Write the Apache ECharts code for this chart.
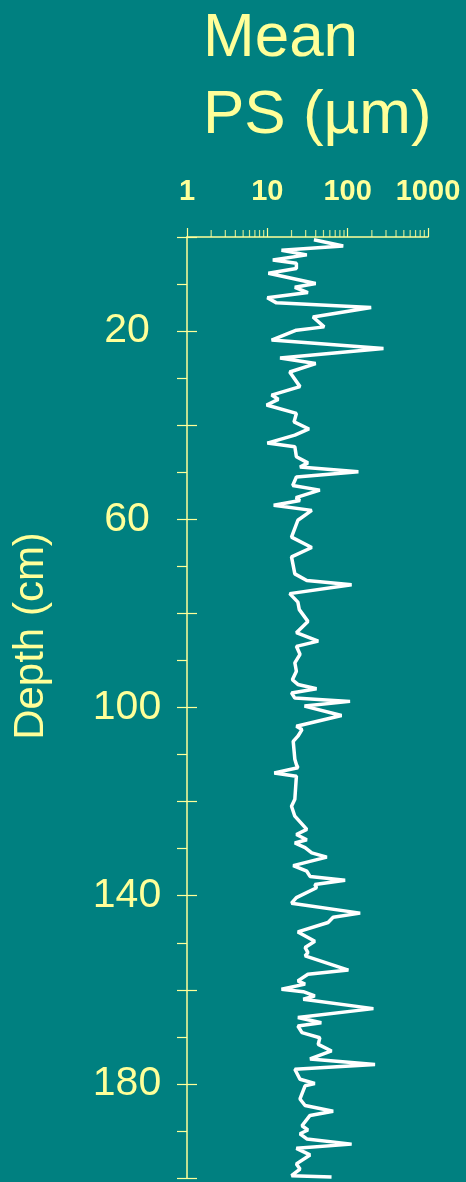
<!DOCTYPE html>
<html><head><meta charset="utf-8">
<script src="https://cdn.jsdelivr.net/npm/echarts@6/dist/echarts.min.js"></script>
<style>html,body{margin:0;padding:0;background:#008080;}#c{width:466px;height:1182px;}</style>
</head><body><div id="c"></div>
<script>
// Depth (cm) of each digitised vertex
const depth = [
  0.6, 1.9, 2.8, 3.8, 4.9, 5.6, 6.7, 7.7, 9.9, 10.7, 11.8, 12.9, 14.0, 15.0, 17.0, 19.1, 19.8,
  21.9, 23.7, 25.7, 26.9, 28.7, 31.8, 33.6, 34.5, 35.7, 37.5, 39.3, 40.8, 42.1, 43.8, 44.6,
  46.7, 48.0, 48.9, 49.9, 51.0, 52.8, 53.8, 55.4, 56.0, 57.0, 58.1, 60.2, 63.8, 66.0, 68.0,
  71.6, 73.0, 73.9, 75.8, 77.6, 79.2, 81.7, 84.1, 85.9, 87.0, 88.7, 90.5, 92.3, 94.1, 95.1,
  96.0, 96.9, 98.0, 98.7, 99.7, 101.7, 104.0, 104.7, 106.1, 107.2, 111.0, 112.1, 112.8, 113.9,
  114.6, 119.5, 121.0, 123.1, 125.9, 127.0, 128.1, 128.8, 129.8, 130.9, 131.8, 133.6, 134.8,
  135.9, 136.7, 137.6, 138.3, 140.4, 141.6, 143.7, 144.6, 145.7, 147.7, 149.7, 151.0, 152.1,
  152.8, 155.8, 156.7, 158.1, 158.8, 159.9, 160.4, 161.3, 162.0, 164.0, 165.9, 167.0, 167.7,
  169.1, 170.2, 171.6, 173.0, 174.7, 175.9, 176.9, 179.0, 179.9, 180.4, 183.2, 184.6, 185.8,
  186.7, 188.9, 189.8, 190.6, 191.7, 192.8, 193.7, 195.1, 197.0, 198.1, 199.5, 199.8
];
// Mean particle size (µm) at each depth
const meanPS = [
  38, 88, 15, 31, 11.7, 23, 23, 10.3, 40, 22, 32, 10, 13, 196, 37, 51, 23,
  11.3, 279, 14.4, 40, 19, 25.5, 11.3, 13.7, 9.8, 23, 21.5, 33, 22, 10, 22,
  23, 32, 25.5, 136, 23, 20.7, 45, 22.7, 25.5, 12, 35.7, 24, 20, 35.7, 20,
  22, 31, 112, 19, 24, 25, 32, 23, 43, 23, 25.5, 22, 23, 20.5, 24,
  41, 20, 22, 107, 29, 84, 23, 27, 24, 21, 22, 23, 24, 12.2,
  23, 22, 20, 22, 31, 23, 31, 22, 29.5, 35.7, 55, 21, 31,
  34, 93, 39, 41, 23, 20, 143, 66, 57, 24, 39, 29.5, 32,
  29.5, 102, 32, 24, 29.5, 15, 28, 39, 28, 209, 24, 47, 24,
  27, 45, 43, 63, 34, 219, 22, 25.5, 39, 29.5, 25.5, 29.5, 66,
  34, 27, 32, 25.5, 31, 112, 23, 34, 23, 25.5, 20, 63
];
const xTickLabels = ['1', '10', '100', '1000'];
const yTickLabels = [20, 60, 100, 140, 180];
const minorTicks = [2,3,4,5,6,7,8,9,20,30,40,50,60,70,80,90,200,300,400,500,600,700,800,900];

const YEL = '#FFFF99';
const FONT = '"Liberation Sans", Arial, sans-serif';

const chart = echarts.init(document.getElementById('c'), null, {renderer: 'canvas'});
chart.setOption({
  backgroundColor: '#008080',
  animation: false,
  title: {
    text: 'Mean\nPS (µm)',
    left: 203, top: 0, padding: 0,
    textStyle: {fontSize: 62, fontWeight: 'normal', color: YEL, lineHeight: 77, fontFamily: FONT}
  },
  graphic: [{
    type: 'text', x: 31, y: 636, rotation: Math.PI / 2,
    style: {text: 'Depth (cm)', fill: YEL, font: '42px ' + FONT, align: 'center', verticalAlign: 'middle'}
  }],
  grid: {left: 187, right: 38, top: 237, bottom: 4, containLabel: false},
  xAxis: {
    type: 'log', logBase: 10, min: 1, max: 1000, position: 'top',
    axisLine: {show: true, lineStyle: {color: YEL, width: 1.5}},
    axisTick: {show: true, inside: false, length: 9, lineStyle: {color: YEL, width: 1.2}},
    splitLine: {show: false},
    axisLabel: {
      margin: 31, color: YEL, fontSize: 29, fontWeight: 'bold', fontFamily: FONT,
      formatter: v => xTickLabels[Math.round(Math.log10(v))]
    }
  },
  yAxis: [{
    type: 'value', inverse: true, min: 0, max: 200, interval: 10,
    axisLine: {show: true, lineStyle: {color: YEL, width: 1.5}},
    axisTick: {show: true, inside: false, length: 10, lineStyle: {color: YEL, width: 1.2}},
    splitLine: {show: false},
    axisLabel: {
      interval: 0, margin: 60, align: 'center', color: YEL, fontSize: 41, fontFamily: FONT,
      formatter: v => (yTickLabels.indexOf(v) >= 0 ? String(v) : '')
    }
  }, {
    type: 'value', inverse: true, min: 0, max: 200, interval: 20, position: 'left',
    axisLine: {show: false},
    axisTick: {show: true, inside: true, length: 10, lineStyle: {color: YEL, width: 1.2}},
    splitLine: {show: false},
    axisLabel: {show: false}
  }],
  series: [{
    type: 'line', yAxisIndex: 0,
    data: depth.map((d, i) => [meanPS[i], d]),
    showSymbol: false, smooth: false, clip: true,
    lineStyle: {color: '#FFFFFF', width: 3.5},
    z: 3
  }, {
    type: 'scatter', yAxisIndex: 0, silent: true, clip: false,
    data: minorTicks.map(v => [v, 0]),
    symbol: 'rect', symbolSize: [1.2, 7], symbolOffset: [0, -3.5],
    itemStyle: {color: YEL}, z: 4
  }]
});
</script></body></html>
